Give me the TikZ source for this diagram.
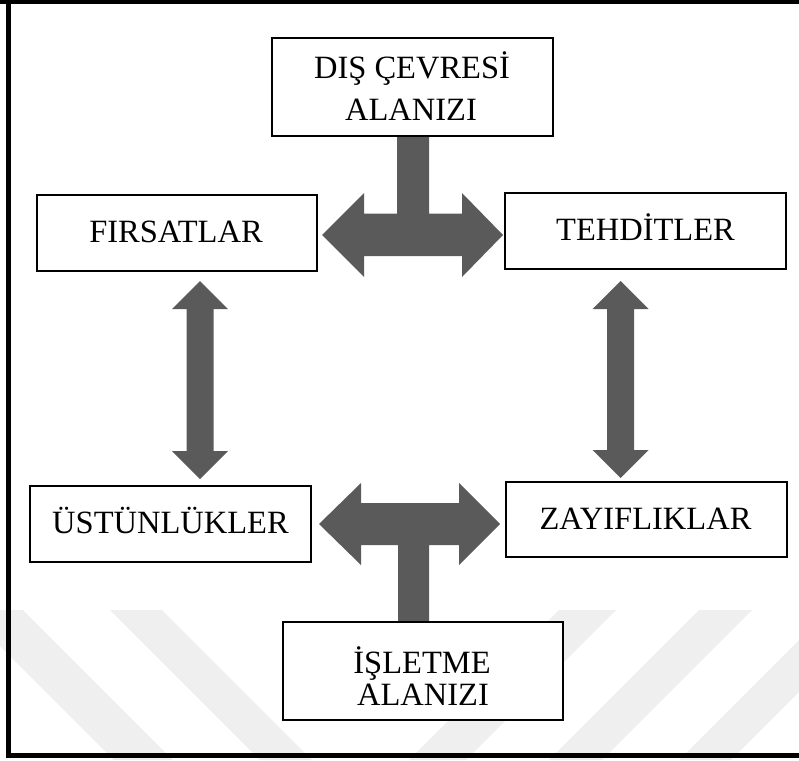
\documentclass[tikz,border=0pt]{standalone}
\usepackage{fontspec}
\setmainfont{Liberation Serif}
\definecolor{arrowgray}{HTML}{5A5A5A}
\definecolor{markgray}{HTML}{EFEFEF}
\begin{document}
\begin{tikzpicture}[x=1pt,y=-1pt,
  box/.style={draw=black, line width=1.2pt, fill=white, rectangle, inner sep=0pt},
  lbl/.style={font=\fontsize{32.5}{39}\selectfont, inner sep=0pt, anchor=base},
  bigarrow/.style={fill=arrowgray, draw=none},
  band/.style={fill=markgray, draw=none},
  frame/.style={draw=black, line width=5pt}]
\useasboundingbox (0,0) rectangle (799,760);
\clip (0,0) rectangle (799,760);

% faint background chevron bands
\fill[band] (-36,610) -- (23,610) -- (173,760) -- (114,760) -- cycle;
\fill[band] (110,610) -- (162,610) -- (312,760) -- (260,760) -- cycle;
\fill[band] (559,610) -- (616,610) -- (466,760) -- (409,760) -- cycle;
\fill[band] (699,610) -- (752,610) -- (602,760) -- (549,760) -- cycle;
\fill[band] (829,610) -- (881,610) -- (731,760) -- (679,760) -- cycle;

% block arrows
\fill[bigarrow] (397,136) -- (429,136) -- (429,213.5) -- (462,213.5) -- (462,193)
  -- (503,235) -- (462,277) -- (462,256) -- (364,256) -- (364,277) -- (322,235)
  -- (364,193) -- (364,213.5) -- (397,213.5) -- cycle;
\fill[bigarrow] (398,622) -- (429,622) -- (429,545) -- (459,545) -- (459,565)
  -- (500,524) -- (459,483) -- (459,503) -- (361,503) -- (361,483) -- (319,524)
  -- (361,565) -- (361,545) -- (398,545) -- cycle;
\newcommand\vdblarrow[3]{%
  \fill[bigarrow] (#1,#2) -- (#1+28,#2+28) -- (#1+13.5,#2+28) -- (#1+13.5,#3-28)
    -- (#1+28,#3-28) -- (#1,#3) -- (#1-28,#3-28) -- (#1-13.5,#3-28)
    -- (#1-13.5,#2+28) -- (#1-28,#2+28) -- cycle;}
\vdblarrow{200}{281}{479}
\vdblarrow{620.5}{281}{478}

% boxes
\node[box, minimum width=281pt, minimum height=98pt] (dis) at (412.5,87) {};
\node[box, minimum width=280pt, minimum height=76pt] (firsat) at (177,233) {};
\node[box, minimum width=281pt, minimum height=76pt] (tehdit) at (645.5,231) {};
\node[box, minimum width=281pt, minimum height=76pt] (ustun) at (170.5,524) {};
\node[box, minimum width=281pt, minimum height=75pt] (zayif) at (646.5,519.5) {};
\node[box, minimum width=280pt, minimum height=98pt] (isletme) at (423,671) {};

% labels
\node[lbl] (dis1) at (412,78.5) {DIŞ ÇEVRESİ};
\node[lbl] (dis2) at (411,120) {ALANIZI};
\node[lbl] (firsatt) at (176,242.5) {FIRSATLAR};
\node[lbl] (tehditt) at (645.5,240.5) {TEHDİTLER};
\node[lbl] (ustunt) at (170.5,533.5) {ÜSTÜNLÜKLER};
\node[lbl] (zayift) at (645.5,529.5) {ZAYIFLIKLAR};
\node[lbl] (isl1) at (422,673.5) {İŞLETME};
\node[lbl] (isl2) at (423,705.5) {ALANIZI};

% outer frame
\draw[frame] (0,1.8) -- (820,1.8);
\draw[frame] (8.5,0) -- (8.5,755.5) -- (820,755.5);
\end{tikzpicture}
\end{document}
